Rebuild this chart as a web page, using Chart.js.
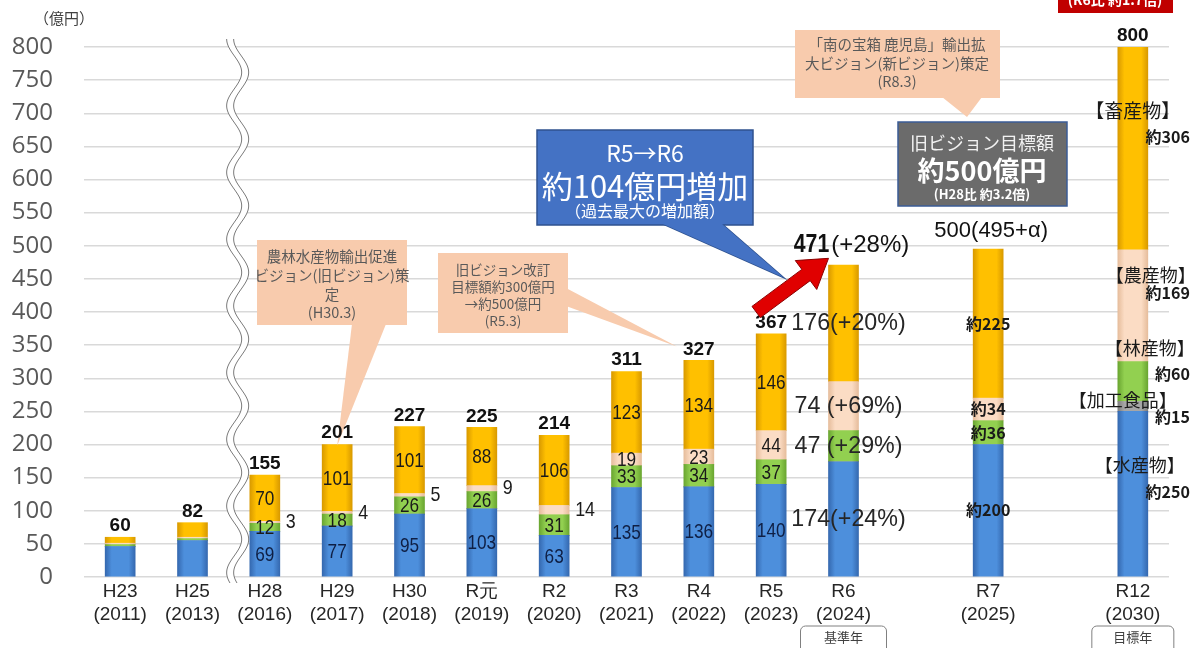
<!DOCTYPE html>
<html><head><meta charset="utf-8">
<script src="https://cdn.jsdelivr.net/npm/chart.js@4.4.1/dist/chart.umd.min.js"></script>
<style>html,body{margin:0;padding:0;background:#fff;}#wrap{width:1197px;height:648px;position:relative;}</style>
</head><body><div id="wrap"><canvas id="c" width="1197" height="648"></canvas></div>
<script>
// ---- data ----
const categories = ['H23','H25','H28','H29','H30','R元','R2','R3','R4','R5','R6','','R7','','R12'];
const yearLabels = ['(2011)','(2013)','(2016)','(2017)','(2018)','(2019)','(2020)','(2021)','(2022)','(2023)','(2024)','','(2025)','','(2030)'];
const suisan   = [46, 55, 69, 77, 95, 103, 63, 135, 136, 140, 174, null, 200, null, 250];
const kakou    = [0, 0, 0, 0, 0, 0, 0, 0, 0, 0, 0, null, 0, null, 15];
const rinsan   = [3, 3, 12, 18, 26, 26, 31, 33, 34, 37, 47, null, 36, null, 60];
const nousan   = [2, 2, 3, 4, 5, 9, 14, 19, 23, 44, 74, null, 34, null, 169];
const chikusan = [9, 22, 70, 101, 101, 88, 106, 123, 134, 146, 176, null, 225, null, 306];
const totals   = [60, 82, 155, 201, 227, 225, 214, 311, 327, 367, 471, null, 500, null, 800];
const totalNotes = ['', '', '', '', '', '', '', '', '', '', '(+28%)', '', '(495+α)', '', ''];
const seriesNames = ['水産物', '加工食品', '林産物', '農産物', '畜産物'];
const r6Growth = ['+24%', '', '+29%', '+69%', '+20%'];
const yTickValues = [0, 50, 100, 150, 200, 250, 300, 350, 400, 450, 500, 550, 600, 650, 700, 750, 800];
const yUnit = '（億円）';

const series = [suisan, kakou, rinsan, nousan, chikusan];

// ---- style ----
const SANS = '"Liberation Sans",Arial,sans-serif';
const JP = '"Noto Sans CJK JP","Noto Sans JP",sans-serif';
const colors = [
  ['#4d8fdc', '#3569b0'],
  ['#a6a6a6', '#7f7f7f'],
  ['#92d050', '#6aa631'],
  ['#fbdcc4', '#e6bd9c'],
  ['#ffc000', '#d99a00']
];
function hgrad(main, edge) {
  return function (c) {
    const ch = c.chart; const xs = ch.scales && ch.scales.x;
    if (!xs || c.type !== 'data') return main;
    const x = xs.getPixelForValue(c.dataIndex);
    if (!isFinite(x)) return main;
    const g = ch.ctx.createLinearGradient(x - 15, 0, x + 15, 0);
    g.addColorStop(0, edge); g.addColorStop(0.22, main); g.addColorStop(0.78, main); g.addColorStop(1, edge);
    return g;
  };
}

function T(ctx, s, x, y, font, color, align, sx) {
  ctx.save();
  ctx.translate(x, y); ctx.scale(sx || 1, 1);
  ctx.font = font; ctx.fillStyle = color; ctx.textAlign = align || 'center'; ctx.textBaseline = 'middle';
  ctx.fillText(s, 0, 0);
  ctx.restore();
}
function poly(ctx, pts, fill, stroke, lw) {
  ctx.beginPath(); ctx.moveTo(pts[0][0], pts[0][1]);
  for (let k = 1; k < pts.length; k++) ctx.lineTo(pts[k][0], pts[k][1]);
  ctx.closePath();
  if (fill) { ctx.fillStyle = fill; ctx.fill(); }
  if (stroke) { ctx.strokeStyle = stroke; ctx.lineWidth = lw || 1; ctx.stroke(); }
}
function callout(ctx, box, tail, fill, stroke) {
  const [bx, by, bw, bh] = box;
  if (stroke) poly(ctx, tail, fill, stroke, 1.5);
  poly(ctx, [[bx, by], [bx + bw, by], [bx + bw, by + bh], [bx, by + bh]], fill, stroke, 1.5);
  poly(ctx, tail, fill, null);
}
function lines(ctx, arr, cx, ys, font, color) {
  arr.forEach((s, k) => T(ctx, s, cx, ys[k], font, color));
}

const breakPlugin = {
  id: 'breakLine',
  beforeDatasetsDraw(chart) {
    const { ctx, scales: { x: xs, y: ys } } = chart;
    const cx = (xs.getPixelForValue(1) + xs.getPixelForValue(2)) / 2 + 9;
    const top = ys.getPixelForValue(800) - 8, bot = ys.getPixelForValue(0) + 6;
    const amp = 7.5, per = 66.7;
    const fx = y => cx - amp * Math.cos((y - top) / per * 2 * Math.PI);
    ctx.save();
    ctx.beginPath();
    for (let y = top; y <= bot; y += 1) ctx.lineTo(fx(y) - 3.5, y);
    for (let y = bot; y >= top; y -= 1) ctx.lineTo(fx(y) + 3.5, y);
    ctx.closePath(); ctx.fillStyle = '#fff'; ctx.fill();
    ctx.strokeStyle = '#7a7a7a'; ctx.lineWidth = 1;
    [-3.5, 3.5].forEach(o => {
      ctx.beginPath();
      for (let y = top; y <= bot; y += 1) ctx.lineTo(fx(y) + o, y);
      ctx.stroke();
    });
    ctx.restore();
  }
};

const labelPlugin = {
  id: 'labels',
  afterDatasetsDraw(chart) {
    const { ctx, scales: { x: xs, y: ys } } = chart;
    const X = i => xs.getPixelForValue(i);
    const Y = v => ys.getPixelForValue(v);
    ctx.save();

    // unit label
    T(ctx, yUnit, 64, 18, '15px ' + JP, '#404040');

    // callout 1 (H30.3)
    callout(ctx, [257, 240, 150, 85], [[352, 324], [386, 324], [X(3), Y(totals[3]) + 2]], '#f8cbad');
    lines(ctx, ['農林水産物輸出促進', 'ビジョン(旧ビジョン)策', '定', '(H30.3)'], 332, [256, 275, 294, 312], '14.5px ' + JP, '#595959');

    // callout 2 (R5.3)
    callout(ctx, [438, 253, 130, 80], [[566, 288], [566, 306], [X(8) - 22, Y(348)]], '#f8cbad');
    lines(ctx, ['旧ビジョン改訂', '目標額約300億円', '→約500億円', '(R5.3)'], 503, [270, 287, 304, 321], '13.5px ' + JP, '#595959');

    // callout 3 (R8.3)
    callout(ctx, [795, 30, 205, 68], [[942, 97], [982, 97], [967, 117]], '#f8cbad');
    lines(ctx, ['「南の宝箱 鹿児島」輸出拡', '大ビジョン(新ビジョン)策定', '(R8.3)'], 897, [44, 63, 81], '14.5px ' + JP, '#595959');

    // blue callout
    callout(ctx, [537, 130, 216, 95], [[663, 224], [722, 224], [X(10) - 60, Y(452)]], '#4472c4', '#2f528f');
    T(ctx, 'R5→R6', 645, 153, '23px ' + JP, '#ffffff');
    T(ctx, '約104億円増加', 645, 186, '31px ' + JP, '#ffffff');
    T(ctx, '（過去最大の増加額）', 645, 211, '16px ' + JP, '#ffffff');

    // grey box
    poly(ctx, [[898, 122], [1067, 122], [1067, 206], [898, 206]], '#6b6b6b', '#3b5c96', 1.5);
    T(ctx, '旧ビジョン目標額', 982, 143, '18px ' + JP, '#f2f2f2');
    T(ctx, '約500億円', 982, 171, 'bold 27px ' + JP, '#ffffff');
    T(ctx, '(H28比 約3.2倍)', 982, 194, 'bold 13px ' + JP, '#ffffff');

    // red top box
    poly(ctx, [[1058, -14], [1173, -14], [1173, 13], [1058, 13]], '#c00000', null);
    T(ctx, '(R6比 約1.7倍)', 1115, 0, 'bold 14px ' + JP, '#ffffff');

    // segment labels
    series.forEach((arr, di) => {
      const meta = chart.getDatasetMeta(di);
      arr.forEach((v, i) => {
        if (v === null || v === 0) return;
        const el = meta.data[i];
        const cx = el.x, cy = (el.y + el.base) / 2;
        if (i >= 2 && i <= 9) {
          const col = di === 0 ? '#0f1f44' : '#1a1a1a';
          if (di === 3 && v < 15) T(ctx, String(v), cx + 21, cy, '21px ' + SANS, '#1a1a1a', 'left', 0.85);
          else T(ctx, String(v), cx, cy + 1, '21px ' + SANS, col, 'center', 0.82);
        } else if (i === 10) {
          const s = v + (v < 100 ? ' ' : '') + '(' + r6Growth[di] + ')';
          T(ctx, s, cx + 5, cy, '24px ' + SANS, '#262626', 'center', 0.97);
        } else if (i === 12) {
          T(ctx, '約' + v, cx, cy, 'bold 16px ' + JP, '#1a1a1a');
        }
      });
    });

    // R12 outside labels
    const r12Layout = [[7, -29, -2], [-10, -6, 11], [17, -33, -8], [18, -31, -13], [0, -38, -11]];
    series.forEach((arr, di) => {
      const v = arr[14]; if (!v) return;
      const el = chart.getDatasetMeta(di).data[14];
      const cy = (el.y + el.base) / 2;
      const [dx, dyN, dyV] = r12Layout[di];
      T(ctx, '【' + seriesNames[di] + '】', el.x + dx, cy + dyN, (di === 4 ? '19px ' : '18px ') + JP, '#1a1a1a');
      T(ctx, '約' + v, el.x + 57, cy + dyV, 'bold 16px ' + JP, '#1a1a1a', 'right');
    });

    // totals
    totals.forEach((v, i) => {
      if (v === null) return;
      const top = Y(v);
      const cx = X(i);
      if (i === 10) {
        ctx.font = 'bold 25px ' + SANS; const w1 = ctx.measureText(String(v)).width * 0.85;
        ctx.font = '24px ' + SANS; const w2 = ctx.measureText(totalNotes[i]).width;
        const x0 = cx + 7 - (w1 + w2) / 2;
        T(ctx, String(v), x0, top - 20, 'bold 25px ' + SANS, '#111', 'left', 0.85);
        T(ctx, totalNotes[i], x0 + w1 + 2, top - 20, '24px ' + SANS, '#111', 'left');
      } else if (i === 12) {
        T(ctx, v + totalNotes[i], cx + 3, top - 15, '22px ' + SANS, '#111');
      } else {
        T(ctx, String(v), cx, top - 11, 'bold 19px ' + SANS, '#111');
      }
    });

    // red arrow R5 -> R6
    {
      const x1 = X(9) - 15, y1 = Y(400), x2 = X(10) - 15, y2 = Y(481);
      const ang = Math.atan2(y2 - y1, x2 - x1), L = Math.hypot(x2 - x1, y2 - y1);
      const hl = 28, sw = 7, hw = 18;
      const p = (a, b) => [x1 + a * Math.cos(ang) - b * Math.sin(ang), y1 + a * Math.sin(ang) + b * Math.cos(ang)];
      poly(ctx, [p(0, -sw), p(L - hl, -sw), p(L - hl, -hw), p(L, 0), p(L - hl, hw), p(L - hl, sw), p(0, sw)], '#e00000', '#8b0000', 1);
    }

    // base / target year boxes
    [[10, '基準年', 86], [14, '目標年', 82]].forEach(([i, s, w]) => {
      const cx = X(i);
      ctx.beginPath(); ctx.roundRect(cx - w / 2, 626, w, 34, 5);
      ctx.strokeStyle = '#808080'; ctx.lineWidth = 1; ctx.stroke();
      T(ctx, s, cx, 637, '13px ' + JP, '#404040');
    });

    ctx.restore();
  }
};

new Chart(document.getElementById('c'), {
  type: 'bar',
  data: {
    labels: categories.map((c, i) => [c, yearLabels[i]]),
    datasets: series.map((arr, di) => ({
      label: seriesNames[di],
      data: arr,
      backgroundColor: hgrad(colors[di][0], colors[di][1]),
      borderWidth: 0,
      barThickness: 30,
      stack: 's'
    }))
  },
  options: {
    responsive: false, animation: false, devicePixelRatio: 1,
    layout: { padding: { top: 47, right: 28, left: 0, bottom: 0 } },
    plugins: { legend: { display: false }, tooltip: { enabled: false } },
    scales: {
      x: {
        stacked: true,
        grid: { display: false, drawTicks: false },
        border: { display: false },
        ticks: { autoSkip: false, maxRotation: 0, padding: 4, color: '#262626', font: { family: SANS, size: 19, lineHeight: 1.17 } },
        afterFit: s => { s.height = 71; }
      },
      y: {
        stacked: true, min: 0, max: 800,
        afterBuildTicks: s => { s.ticks = yTickValues.map(v => ({ value: v })); },
        grid: { color: '#d9d9d9', lineWidth: 1.5, drawTicks: false },
        border: { display: false },
        ticks: { padding: 31, color: '#595959', font: { family: '"Open Sans",' + SANS, size: 24 } },
        afterFit: s => { s.width = 84; }
      }
    }
  },
  plugins: [breakPlugin, labelPlugin]
});
</script></body></html>
